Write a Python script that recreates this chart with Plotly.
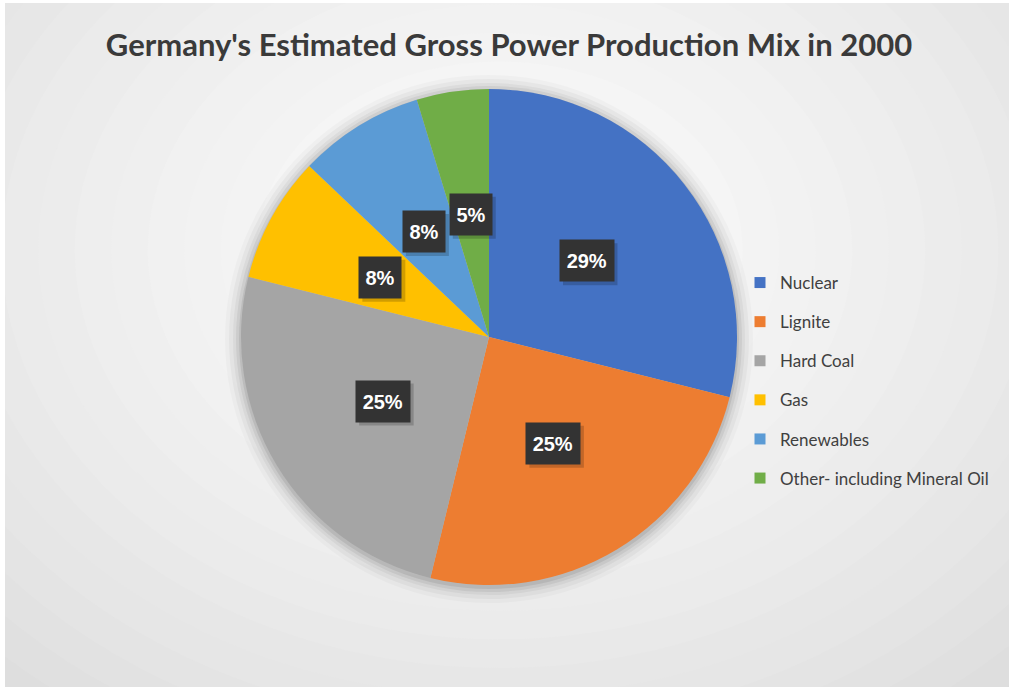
import plotly.graph_objects as go
import math

# ---- data ----
categories = ["Nuclear", "Lignite", "Hard Coal", "Gas", "Renewables", "Other- including Mineral Oil"]
shares = [28.9, 24.9, 25.1, 8.2, 8.2, 4.7]
colors = ["#4472C4", "#ED7D31", "#A5A5A5", "#FFC000", "#5B9BD5", "#70AD47"]
title_text = "Germany's Estimated Gross Power Production Mix in 2000"

W, H = 1009, 687
OX, OY = 5, 3  # page offset of the figure
CX, CY, R = 489 - OX, 337 - OY, 248  # pie geometry in figure pixels

dom_x = [(CX - R) / W, (CX + R) / W]
dom_y = [1 - (CY + R) / H, 1 - (CY - R) / H]

fig = go.Figure()
fig.add_trace(go.Pie(
    labels=categories,
    values=shares,
    sort=False,
    direction="clockwise",
    rotation=0,
    marker=dict(colors=colors, line=dict(width=0)),
    textinfo="none",
    hoverinfo="label+percent",
    domain=dict(x=dom_x, y=dom_y),
    showlegend=False,
))
# legend entries (one group per category for spacing)
for cat, col in zip(categories, colors):
    fig.add_trace(go.Scatter(
        x=[None], y=[None], mode="markers", name=cat, legendgroup=cat,
        marker=dict(symbol="square", size=11, color=col), showlegend=True,
    ))

shapes = []
# background radial gradient (approximation)
N = 24
gcx, gcy = 500 - OX, 250 - OY
for i in range(N):
    t = i / (N - 1)
    rx = 840 * (1 - t) + 60
    ry = 660 * (1 - t) + 45
    c0, c1 = 0xD4, 0xFC
    v = int(c0 + (c1 - c0) * (t ** 0.75))
    col = f"rgb({v},{v},{v})"
    shapes.append(dict(type="circle", xref="paper", yref="paper", layer="below",
                       x0=(gcx - rx) / W, x1=(gcx + rx) / W,
                       y0=1 - (gcy + ry) / H, y1=1 - (gcy - ry) / H,
                       fillcolor=col, line=dict(width=0)))
# pie soft shadow
for k, a in [(16, 0.025), (12, 0.035), (8, 0.045), (5, 0.06), (2, 0.08)]:
    shapes.append(dict(type="circle", xref="paper", yref="paper", layer="below",
                       x0=(CX - R - k) / W, x1=(CX + R + k) / W,
                       y0=1 - (CY + R + k + 2) / H, y1=1 - (CY - R - k + 2) / H,
                       fillcolor=f"rgba(0,0,0,{a})", line=dict(width=0)))

# percentage labels in dark boxes
total = sum(shares)
annotations = []
cum = 0
for v in shares:
    mid = 2 * math.pi * (cum + v / 2) / total
    cum += v
    px = CX + 0.5 * R * math.sin(mid)
    py = CY - 0.5 * R * math.cos(mid)
    label = f"{round(v / total * 100)}%"
    bw = 19 + 11.5 * len(label)
    bh = 41
    # box shadow
    shapes.append(dict(type="rect", xref="paper", yref="paper", layer="above",
                       x0=(px - bw / 2 + 3) / W, x1=(px + bw / 2 + 4) / W,
                       y0=1 - (py + bh / 2 + 4) / H, y1=1 - (py - bh / 2 + 3) / H,
                       fillcolor="rgba(0,0,0,0.18)", line=dict(width=0)))
    annotations.append(dict(x=px / W, y=1 - py / H, xref="paper", yref="paper",
                            xanchor="center", yanchor="middle",
                            text=f"<b>{label}</b>", showarrow=False, bgcolor="#333333",
                            width=bw, height=bh, borderpad=0,
                            font=dict(family="Arial", size=20, color="white")))

fig.update_layout(
    width=W, height=H,
    margin=dict(l=0, r=0, t=0, b=0),
    paper_bgcolor="#d4d4d4",
    plot_bgcolor="rgba(0,0,0,0)",
    xaxis=dict(visible=False),
    yaxis=dict(visible=False),
    title=dict(text=f"<b>{title_text}</b>", x=(509 - OX) / W, xanchor="center",
               y=1 - (45 - OY) / H, yanchor="middle", yref="container",
               font=dict(family="Lato", size=31, color="#3a3a3a")),
    legend=dict(x=(740 - OX) / W, xanchor="left", y=1 - (265 - OY) / H, yanchor="top",
                bgcolor="rgba(0,0,0,0)", tracegroupgap=14, itemclick=False,
                font=dict(family="Lato", size=17, color="#404040")),
    shapes=shapes,
    annotations=annotations,
)

fig.write_html("out.html")

with open("out.html", encoding="utf-8") as f:
    html = f.read()
html = html.replace("<body>", f'<body style="margin:{OY}px 0 0 {OX}px;overflow:hidden;background:#ffffff">', 1)
with open("out.html", "w", encoding="utf-8") as f:
    f.write(html)
